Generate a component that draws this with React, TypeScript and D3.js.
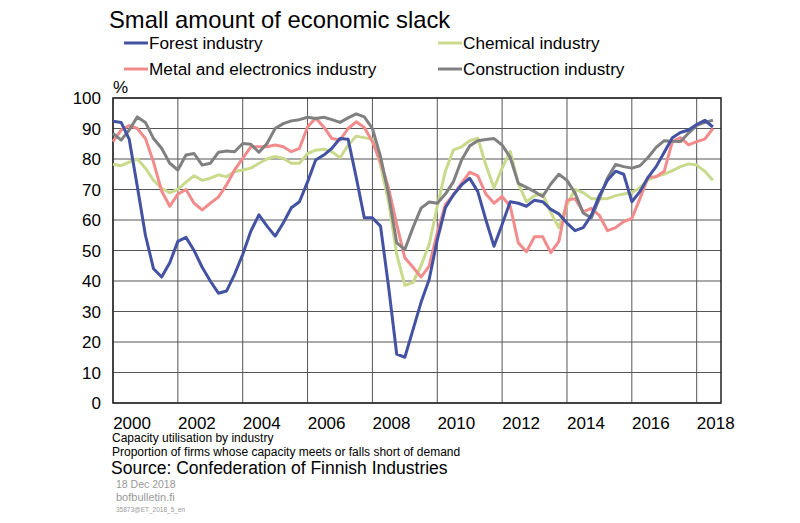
import * as d3 from "d3";

const width = 800;
const height = 523;
const plot = { left: 113, right: 721, top: 98, bottom: 403 };
const font = "'Liberation Sans', Arial, sans-serif";

// quarterly observations, first point on the left edge
const forest = [
  92.4, 92, 86.5, 71, 55, 44, 41.3, 46, 53, 54.3, 50, 44.5, 40, 36, 36.7,
  42.2, 48.7, 56.3, 61.7, 58, 54.7, 59, 64, 66, 72.5, 79.7, 81.3, 83.5, 86.7,
  86.5, 74, 60.7, 60.7, 58, 38, 16, 15, 24, 33, 40.5, 53.5, 64, 68.3, 71.5,
  73.7, 69.3, 60, 51.4, 58.5, 66, 65.5, 64.5, 66.5, 66, 63.5, 62, 59, 56.5,
  57.5, 61.5, 68, 73, 76, 75, 66, 69.3, 74, 77.5, 82.2, 87, 88.7, 89.5, 91.3,
  92.7, 90.5,
];
const chemical = [
  78.3, 77.8, 79, 80, 77, 73, 70.4, 69, 70, 72.4, 74.5, 73, 73.7, 74.8, 74.2,
  75.9, 76.4, 77, 78.6, 80, 80.8, 80.2, 78.6, 78.6, 81.8, 82.9, 83.2, 82.4,
  80.4, 84.5, 87.5, 87, 86.5, 78, 66, 48.7, 38.6, 39.5, 45, 52, 64.5, 76, 83,
  84, 86, 86.8, 78, 70.5, 77, 82.5, 72, 66, 68, 68.5, 62.5, 57.5, 65, 70, 69,
  67, 67, 67, 68, 68.5, 69, 70.6, 73.2, 74.3, 75, 76.2, 77.5, 78.4, 78, 76, 73,
];
const metal = [
  85.7, 89.5, 91, 90, 86.7, 79, 69.5, 64.5, 68.5, 70, 65.5, 63.3, 65.5, 67.5,
  71.5, 76.4, 80.2, 84, 84, 84, 84.6, 84, 82.4, 83.5, 90.5, 93.4, 90.5, 86.7,
  86.2, 90, 92.2, 90.3, 85.7, 79, 70.4, 58.5, 47.6, 44.5, 41.3, 44.9, 55.8, 65,
  68.3, 72.1, 75.7, 74.5, 68.5, 65.5, 67.7, 64.5, 52.5, 49.6, 54.5, 54.5, 49.3,
  53, 66.5, 67, 62.7, 63.8, 61.5, 56.5, 57.5, 59.5, 60.5, 67, 74, 74.2, 76,
  85.7, 87, 84.6, 85.7, 86.5, 90,
];
const construction = [
  88.4, 86.2, 89.5, 93.8, 92, 86.7, 83.5, 78.6, 76.4, 81.3, 81.8, 78, 78.6,
  82.2, 82.6, 82.4, 85.1, 84.8, 82.2, 85.1, 90, 91.6, 92.5, 92.9, 93.7, 93.3,
  93.7, 92.9, 92, 93.5, 94.8, 93.8, 90, 80.8, 68.3, 52.5, 50.3, 57.5, 63.9,
  65.9, 65.5, 68.5, 72.6, 79.7, 84.3, 86, 86.4, 86.7, 84.6, 80.5, 72, 70.7,
  69.3, 67.7, 71.8, 75, 73, 68.8, 62.3, 60.7, 67, 73.8, 78.2, 77.5, 77, 77.8,
  80.5, 83.8, 86, 85.8, 85.7, 88.5, 91, 92, 92.7,
];

const yearLabels = ["2000", "2002", "2004", "2006", "2008", "2010", "2012", "2014", "2016", "2018"];
const yTicks = [0, 10, 20, 30, 40, 50, 60, 70, 80, 90, 100];

const series = [
  { name: "Forest industry", values: forest, color: "#4352a3" },
  { name: "Chemical industry", values: chemical, color: "#c9da8c" },
  { name: "Metal and electronics industry", values: metal, color: "#f28b8c" },
  { name: "Construction industry", values: construction, color: "#808080" },
];

const x = d3.scaleLinear().domain([0, 75]).range([plot.left, plot.right]);
const y = d3.scaleLinear().domain([0, 100]).range([plot.bottom, plot.top]);

const line = d3
  .line<number>()
  .x((_, i) => x(i))
  .y((d) => y(d));

const gridX = d3.range(0, 75, 8);

const App = () => {
  return (
    <svg
      width={width}
      height={height}
      style={{ position: "absolute", left: 0, top: 0, background: "#fff" }}
      fontFamily={font}
    >
      <text x={109} y={28} fontSize={23.8}>
        Small amount of economic slack
      </text>

      {/* legend, two columns */}
      {series.map((s, i) => {
        const lx = i % 2 === 0 ? 124 : 438;
        const ly = i < 2 ? 43 : 69;
        return (
          <g key={s.name}>
            <line x1={lx} x2={lx + 24} y1={ly} y2={ly} stroke={s.color} strokeWidth={3} />
            <text x={lx + 25} y={ly + 5.5} fontSize={17.2}>
              {s.name}
            </text>
          </g>
        );
      })}

      <text x={113} y={93} fontSize={17}>
        %
      </text>

      {yTicks.map((t) => (
        <g key={t}>
          <line
            x1={plot.left}
            x2={plot.right}
            y1={y(t)}
            y2={y(t)}
            stroke="#555"
            strokeWidth={1}
          />
          <text x={101} y={y(t) + 6} fontSize={17} textAnchor="end">
            {t}
          </text>
        </g>
      ))}
      {gridX.map((g) => (
        <line
          key={g}
          x1={x(g)}
          x2={x(g)}
          y1={plot.top}
          y2={plot.bottom}
          stroke="#555"
          strokeWidth={1}
        />
      ))}
      <rect
        x={plot.left}
        y={plot.top}
        width={plot.right - plot.left}
        height={plot.bottom - plot.top}
        fill="none"
        stroke="#222"
        strokeWidth={1.5}
      />

      {yearLabels.map((l, k) => (
        <text key={l} x={x(2.35 + 8 * k)} y={429} fontSize={17} textAnchor="middle">
          {l}
        </text>
      ))}

      {[series[1], series[2], series[3], series[0]].map((s) => (
        <path
          key={s.name}
          d={line(s.values) ?? ""}
          fill="none"
          stroke={s.color}
          strokeWidth={3}
          strokeLinejoin="round"
        />
      ))}

      <text x={112} y={442} fontSize={12}>
        Capacity utilisation by industry
      </text>
      <text x={112} y={456} fontSize={12}>
        Proportion of firms whose capacity meets or falls short of demand
      </text>
      <text x={111} y={474} fontSize={17.5}>
        Source: Confederation of Finnish Industries
      </text>
      <text x={116} y={488} fontSize={10.5} fill="#999">
        18 Dec 2018
      </text>
      <text x={116} y={501} fontSize={11} fill="#999">
        bofbulletin.fi
      </text>
      <text x={116} y={512} fontSize={6.5} fill="#999">
        35873@ET_2018_5_en
      </text>
    </svg>
  );
};

export default App;
